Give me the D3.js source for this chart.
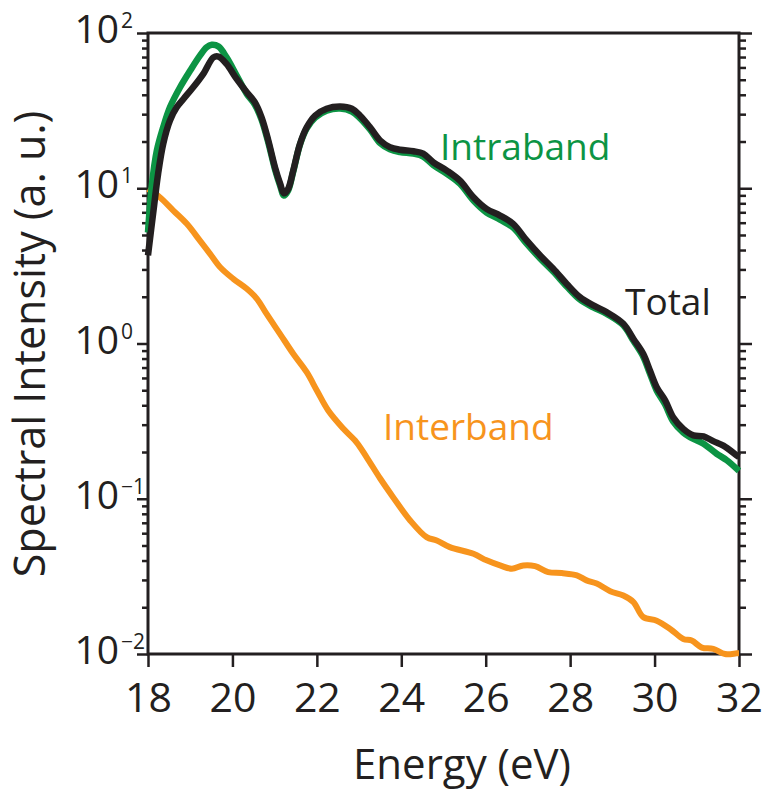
<!DOCTYPE html>
<html lang="en">
<head>
<meta charset="utf-8">
<title>spectral intensity</title>
<script src="https://d3js.org/d3.v7.min.js"></script>
<style>
body { margin: 0; background: #fff; }
text { font-family: "Open Sans", sans-serif; fill: #231f20; }
</style>
</head>
<body>
<script>

// Energy (eV) and spectral intensity (a. u.)
var totalE = [18.0,18.13,18.24,18.36,18.52,18.68,18.84,19.07,19.31,19.55,19.67,19.86,20.10,20.34,20.53,20.69,20.85,21.01,21.13,21.22,21.32,21.44,21.60,21.76,21.96,22.23,22.55,22.83,23.02,23.26,23.50,23.73,23.97,24.29,24.52,24.76,25.08,25.39,25.71,26.02,26.34,26.65,26.97,27.29,27.60,27.92,28.23,28.55,28.87,29.26,29.50,29.73,29.89,30.05,30.25,30.44,30.68,30.92,31.16,31.39,31.63,31.95,32.0];
var total = [3.69,7.18,12.4,19.3,27.3,33.2,37.6,44.7,54.6,69.7,70.5,63.2,50.6,41.5,35.8,28.6,20.3,13.6,10.7,9.27,9.91,13.0,19.3,24.7,29.4,32.5,33.6,32.5,29.4,24.7,20.3,18.4,17.7,17.3,16.7,14.7,13.0,11.2,8.75,7.36,6.67,5.90,4.61,3.69,3.03,2.42,1.99,1.76,1.59,1.34,1.07,0.859,0.670,0.523,0.430,0.335,0.282,0.256,0.252,0.235,0.220,0.190,0.186];

var intraE = [18.0,18.09,18.21,18.36,18.52,18.76,19.0,19.23,19.39,19.51,19.67,19.86,20.10,20.34,20.53,20.69,20.85,21.01,21.13,21.22,21.32,21.44,21.60,21.76,21.96,22.23,22.55,22.83,23.02,23.26,23.50,23.73,23.97,24.29,24.52,24.76,25.08,25.39,25.71,26.02,26.34,26.65,26.97,27.29,27.60,27.92,28.23,28.55,28.87,29.26,29.50,29.73,29.89,30.05,30.25,30.44,30.68,30.84,31.16,31.47,31.71,32.0];
var intra = [5.19,10.4,17.5,24.7,33.2,44.7,57.3,71.5,80.9,83.9,81.8,69.7,53.2,40.5,34.6,27.7,19.7,13.2,10.4,8.97,9.67,12.8,19.1,24.3,28.5,31.6,32.6,31.2,28.3,23.9,19.5,17.8,17.1,16.7,16.0,14.1,12.4,10.7,8.33,6.98,6.28,5.58,4.40,3.53,2.91,2.33,1.92,1.71,1.55,1.31,1.04,0.825,0.641,0.498,0.405,0.315,0.267,0.249,0.226,0.195,0.177,0.151];

var interE = [18.0,18.28,18.60,18.92,19.23,19.47,19.71,20.02,20.34,20.58,20.81,21.13,21.44,21.76,22.0,22.27,22.63,22.94,23.18,23.50,23.81,24.21,24.60,24.84,25.15,25.71,26.02,26.34,26.62,26.89,27.17,27.48,27.80,28.16,28.39,28.63,28.95,29.26,29.50,29.73,30.05,30.37,30.68,30.88,31.12,31.39,31.67,31.95,32.0];
var inter = [9.91,8.75,7.18,5.90,4.60,3.78,3.10,2.61,2.25,1.94,1.55,1.15,0.859,0.653,0.498,0.370,0.282,0.231,0.185,0.135,0.102,0.0725,0.0566,0.0539,0.0488,0.0442,0.0401,0.0372,0.0354,0.0372,0.0368,0.0337,0.0332,0.0321,0.0298,0.0284,0.0254,0.0238,0.0216,0.0173,0.0164,0.0145,0.0125,0.0122,0.0110,0.0108,0.0100,0.0101,0.0101];

var xTicks = [18,20,22,24,26,28,30,32];
var yExponents = [2,1,0,-1,-2];

var W = 770, H = 792;
var pL = 148, pR = 739, pT = 33, pB = 654;
var ink = "#231f20", green = "#0c9444", orange = "#f7941d";

var x = d3.scaleLinear().domain([18, 32]).range([pL, pR]);
var y = d3.scaleLog().domain([1e-2, 1e2]).range([pB, pT]);

var svg = d3.select("body").append("svg")
    .attr("width", W)
    .attr("height", H);

// minor + major y ticks
var yTickVals = [];
for (var e = -2; e < 2; e++) {
    for (var m = 1; m < 10; m++) yTickVals.push(m * Math.pow(10, e));
}
yTickVals.push(100);
function isMajor(v) { return Math.abs(Math.log10(v) - Math.round(Math.log10(v))) < 1e-6; }

function styleAxis(g) {
    g.select(".domain").remove();
    g.selectAll("line").attr("stroke", ink).attr("stroke-width", 2.5);
}

var gl = svg.append("g")
    .attr("transform", "translate(" + pL + ",0)")
    .call(d3.axisLeft(y).tickValues(yTickVals).tickSize(11).tickFormat(""));
styleAxis(gl);
gl.selectAll(".tick line").attr("x2", function(d) { return isMajor(d) ? -11 : -6; });
gl.selectAll(".tick text").remove();

var gr = svg.append("g")
    .attr("transform", "translate(" + pR + ",0)")
    .call(d3.axisRight(y).tickValues(yTickVals).tickSize(13).tickFormat(""));
styleAxis(gr);
gr.selectAll(".tick line").attr("x2", function(d) { return isMajor(d) ? 13 : 7; });
gr.selectAll(".tick text").remove();

var gb = svg.append("g")
    .attr("transform", "translate(0," + pB + ")")
    .call(d3.axisBottom(x).tickValues(xTicks).tickSize(13).tickPadding(16));
styleAxis(gb);
gb.selectAll(".tick text")
    .attr("font-size", 41)
    .attr("font-family", "Open Sans")
    .attr("fill", ink);

// y tick labels 10^n
var yl = svg.append("g").selectAll("g")
    .data(yExponents)
    .enter().append("g");
yl.append("text")
    .attr("x", 119)
    .attr("y", function(d) { return y(Math.pow(10, d)) + 10; })
    .attr("text-anchor", "end")
    .attr("font-size", 39)
    .text("10");
yl.append("text")
    .attr("x", 121)
    .attr("y", function(d) { return y(Math.pow(10, d)) - 5; })
    .attr("font-size", 21)
    .text(function(d) { return d < 0 ? "\u2212" + (-d) : d; });

// frame
svg.append("rect")
    .attr("x", pL).attr("y", pT)
    .attr("width", pR - pL).attr("height", pB - pT)
    .attr("fill", "none")
    .attr("stroke", ink)
    .attr("stroke-width", 3);

var line = d3.line()
    .x(function(d) { return x(d[0]); })
    .y(function(d) { return y(d[1]); })
    .curve(d3.curveCatmullRom.alpha(0.5));

function series(es, vs) { return es.map(function(e, i) { return [e, vs[i]]; }); }

svg.append("path")
    .datum(series(interE, inter))
    .attr("d", line)
    .attr("fill", "none")
    .attr("stroke", orange)
    .attr("stroke-width", 6);

svg.append("path")
    .datum(series(intraE, intra))
    .attr("d", line)
    .attr("fill", "none")
    .attr("stroke", green)
    .attr("stroke-width", 6.5);

svg.append("path")
    .datum(series(totalE, total))
    .attr("d", line)
    .attr("fill", "none")
    .attr("stroke", ink)
    .attr("stroke-width", 6.5);

// labels on the curves
svg.append("text").attr("x", 440).attr("y", 160)
    .attr("font-size", 37).style("fill", green).text("Intraband");
svg.append("text").attr("x", 625).attr("y", 315)
    .attr("font-size", 37).style("fill", ink).text("Total");
svg.append("text").attr("x", 383).attr("y", 440)
    .attr("font-size", 37).style("fill", orange).text("Interband");

// axis titles
svg.append("text")
    .attr("x", 462).attr("y", 779)
    .attr("text-anchor", "middle")
    .attr("font-size", 42)
    .text("Energy (eV)");

svg.append("text")
    .attr("transform", "translate(45,344) rotate(-90)")
    .attr("text-anchor", "middle")
    .attr("font-size", 43)
    .text("Spectral Intensity (a. u.)");

</script>
</body>
</html>
